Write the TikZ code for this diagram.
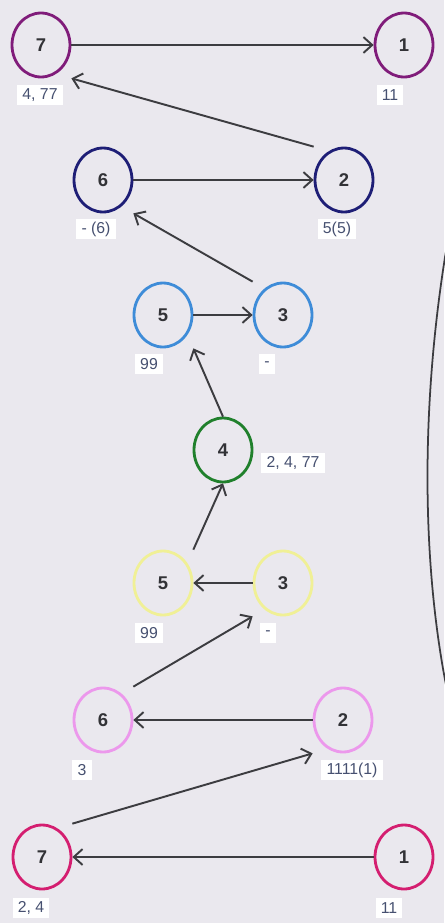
\documentclass[tikz,border=0pt]{standalone}
\usepackage{fontspec}
\setmainfont{Liberation Sans}
\usetikzlibrary{arrows.meta}
\definecolor{bgcol}{RGB}{234,232,238}
\definecolor{purplec}{RGB}{128,28,122}
\definecolor{navyc}{RGB}{30,30,118}
\definecolor{bluec}{RGB}{62,140,216}
\definecolor{greenc}{RGB}{32,128,44}
\definecolor{yellowc}{RGB}{240,240,150}
\definecolor{pinkc}{RGB}{236,152,236}
\definecolor{crimsonc}{RGB}{212,30,112}
\definecolor{edgec}{RGB}{60,60,64}
\definecolor{lblc}{RGB}{70,80,112}
\definecolor{numc}{RGB}{50,50,54}
\tikzset{
  vtx/.style={rectangle, minimum width=1.2cm, minimum height=1.32cm, inner sep=0pt,
    text=numc, font=\fontsize{10.5}{12}\selectfont\bfseries,
    append after command={\pgfextra{\draw[#1, line width=1.6pt]
      (\tikzlastnode.center) ellipse [x radius=.58cm, y radius=.64cm];}}},
  lbl/.style={rectangle, fill=white, inner xsep=3pt, inner ysep=1.5pt, minimum height=.4cm,
    text=lblc, font=\fontsize{9}{10}\selectfont},
  edg/.style={draw=edgec, line width=1.1pt, -{Straight Barb[length=5pt,width=9pt]}}
}
\begin{document}
\begin{tikzpicture}[x=.02cm, y=-.02cm]
\useasboundingbox[fill=bgcol] (0,0) rectangle (444,923);
\draw[edgec, line width=1pt] (447,245) .. controls (421,400) and (421,560) .. (447,690);
\node[vtx=purplec] (n7a) at (41,45){7};
\node[vtx=purplec] (n1a) at (404,45){1};
\node[lbl] (l7a) at (40,95){4, 77};
\node[lbl] (l1a) at (390,95){11};
\node[vtx=navyc] (n6b) at (103,180){6};
\node[vtx=navyc] (n2b) at (344,180){2};
\node[lbl] (l6b) at (96,229){- (6)};
\node[lbl] (l2b) at (337,229){5(5)};
\node[vtx=bluec] (n5c) at (163,315){5};
\node[vtx=bluec] (n3c) at (283,315){3};
\node[lbl] (l5c) at (149,364){99};
\node[lbl] (l3c) at (267,364){-};
\node[vtx=greenc] (n4) at (223,450){4};
\node[lbl] (l4) at (293,463){2, 4, 77};
\node[vtx=yellowc] (n5d) at (163,583){5};
\node[vtx=yellowc] (n3d) at (283,583){3};
\node[lbl] (l5d) at (149,633){99};
\node[lbl] (l3d) at (268,633){-};
\node[vtx=pinkc] (n6e) at (103,720){6};
\node[vtx=pinkc] (n2e) at (343,720){2};
\node[lbl] (l6e) at (82,770){3};
\node[lbl] (l2e) at (352,770){1111(1)};
\node[vtx=crimsonc] (n7f) at (42,857){7};
\node[vtx=crimsonc] (n1f) at (404,857){1};
\node[lbl] (l7f) at (31,908){2, 4};
\node[lbl] (l1f) at (389,908){11};
\draw[edg] (n7a.east) -- (n1a.west);
\draw[edg] (n2b.north west) -- (n7a.south east);
\draw[edg] (n6b.east) -- (n2b.west);
\draw[edg] (n3c.north west) -- (n6b.south east);
\draw[edg] (n5c.east) -- (n3c.west);
\draw[edg] (n4.north) -- (n5c.south east);
\draw[edg] (n5d.north east) -- (n4.south);
\draw[edg] (n3d.west) -- (n5d.east);
\draw[edg] (n6e.north east) -- (n3d.south west);
\draw[edg] (n2e.west) -- (n6e.east);
\draw[edg] (n7f.north east) -- (n2e.south west);
\draw[edg] (n1f.west) -- (n7f.east);
\end{tikzpicture}
\end{document}
